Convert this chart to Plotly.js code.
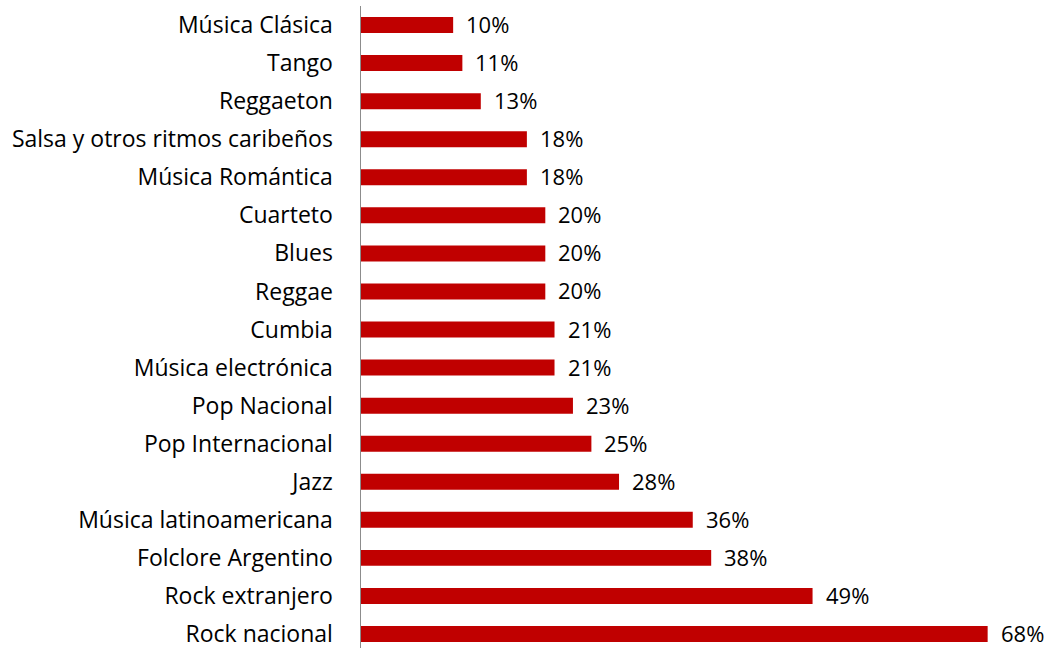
<!DOCTYPE html>
<html>
<head>
<meta charset="utf-8">
<script src="https://cdn.plot.ly/plotly-3.0.1.min.js"></script>
<style>
  body { margin: 0; background: #fff; }
  #chart { width: 1054px; height: 648px; }
</style>
</head>
<body>
<div id="chart"></div>
<script>
// genres, bottom to top as plotly draws them
const genres = [
  "Rock nacional",
  "Rock extranjero",
  "Folclore Argentino",
  "Música latinoamericana",
  "Jazz",
  "Pop Internacional",
  "Pop Nacional",
  "Música electrónica",
  "Cumbia",
  "Reggae",
  "Blues",
  "Cuarteto",
  "Música Romántica",
  "Salsa y otros ritmos caribeños",
  "Reggaeton",
  "Tango",
  "Música Clásica"
];
const shares = [68, 49, 38, 36, 28, 25, 23, 21, 21, 20, 20, 20, 18, 18, 13, 11, 10];
const shareLabels = shares.map(v => v + "%");

const fontFamily = "'Open Sans', sans-serif";

const bars = {
  type: "bar",
  orientation: "h",
  x: shares,
  y: genres,
  width: 0.42,
  marker: { color: "#C00000" },
  hoverinfo: "none"
};

// value labels sit a bit further from the bar than plotly's outside text would
const notes = shares.map((v, i) => ({
  x: v,
  y: genres[i],
  text: shareLabels[i],
  showarrow: false,
  xanchor: "left",
  xshift: 12,
  yshift: 1,
  borderpad: 0,
  font: { family: fontFamily, size: 22, color: "#000" }
}));

const layout = {
  width: 1054,
  height: 648,
  margin: { l: 361, r: 0, t: 6, b: 0 },
  paper_bgcolor: "#fff",
  plot_bgcolor: "#fff",
  showlegend: false,
  font: { family: fontFamily, size: 23, color: "#000" },
  xaxis: {
    range: [0, 75.2],
    visible: false,
    fixedrange: true
  },
  yaxis: {
    type: "category",
    range: [-0.368, 16.5],
    showline: true,
    linecolor: "#8c8c8c",
    linewidth: 1.5,
    showgrid: false,
    zeroline: false,
    ticks: "outside",
    ticklen: 22,
    tickcolor: "rgba(0,0,0,0)",
    tickfont: { family: fontFamily, size: 23, color: "#000" },
    fixedrange: true
  },
  annotations: notes
};

Plotly.newPlot("chart", [bars], layout, { staticPlot: true });
</script>
</body>
</html>
